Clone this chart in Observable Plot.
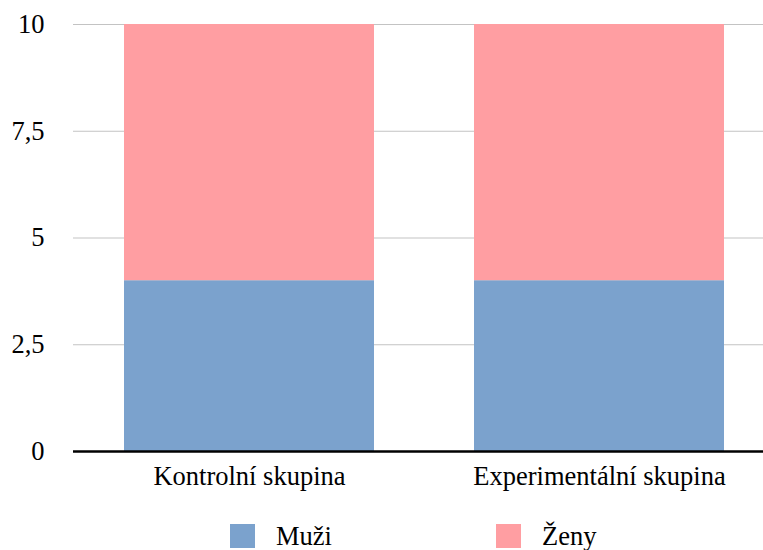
<!DOCTYPE html>
<html>
<head>
<meta charset="utf-8">
<script src="https://cdn.jsdelivr.net/npm/d3@7"></script>
<script src="https://cdn.jsdelivr.net/npm/@observablehq/plot@0.6"></script>
<style>
  html, body { margin: 0; padding: 0; background: #fff; }
  body { width: 763px; height: 550px; overflow: hidden; font-family: "Liberation Serif", "Times New Roman", serif; color: #000; }
  #legend { position: relative; height: 50px; font-size: 26.5px; }
  .item { position: absolute; top: 24px; display: flex; align-items: center; height: 24px; }
  .swatch { width: 25px; height: 24px; margin-right: 21px; }
</style>
</head>
<body>
<div id="chart"></div>
<div id="legend"></div>
<script>
// Group categories, series names and their values
const groups = ["Kontrolní skupina", "Experimentální skupina"];
const series = ["Muži", "Ženy"];
const muzi = [4, 4];
const zeny = [6, 6];
const yTicks = [0, 2.5, 5, 7.5, 10];
const colors = ["#7ba2cd", "#ff9ea2"];

// Long-form table for the stacked bars
const rows = [];
groups.forEach((g, i) => {
  rows.push({group: g, sex: series[0], value: muzi[i]});
  rows.push({group: g, sex: series[1], value: zeny[i]});
});

const fmt = d => String(d).replace(".", ",");

const chart = Plot.plot({
  width: 763,
  height: 500,
  marginTop: 24,
  marginBottom: 49,
  marginLeft: 73,
  marginRight: 0,
  style: {fontFamily: "'Liberation Serif', 'Times New Roman', serif", fontSize: "26.5px", color: "#000", background: "#fff"},
  x: {domain: groups, range: [73.5, 773.5], paddingInner: 100 / 350, paddingOuter: 50 / 350, label: null},
  y: {domain: [0, 10], label: null},
  color: {domain: series, range: colors},
  marks: [
    Plot.ruleY(yTicks, {stroke: "#c3c3c3", strokeWidth: 1}),
    Plot.barY(rows, {x: "group", y: "value", fill: "sex", order: series}),
    Plot.ruleY([0], {stroke: "#000", strokeWidth: 2.5}),
    Plot.axisY({ticks: yTicks, tickFormat: fmt, tickSize: 0, tickPadding: 29, label: null, fill: "#000"}),
    Plot.axisX({tickSize: 0, tickPadding: 15, label: null, fill: "#000"})
  ]
});
document.getElementById("chart").appendChild(chart);

// Legend below the chart
const legend = document.getElementById("legend");
const lefts = [230, 496];
series.forEach((s, i) => {
  const item = document.createElement("div");
  item.className = "item";
  item.style.left = lefts[i] + "px";
  const sw = document.createElement("span");
  sw.className = "swatch";
  sw.style.background = colors[i];
  const label = document.createElement("span");
  label.textContent = s;
  item.appendChild(sw);
  item.appendChild(label);
  legend.appendChild(item);
});
</script>
</body>
</html>
